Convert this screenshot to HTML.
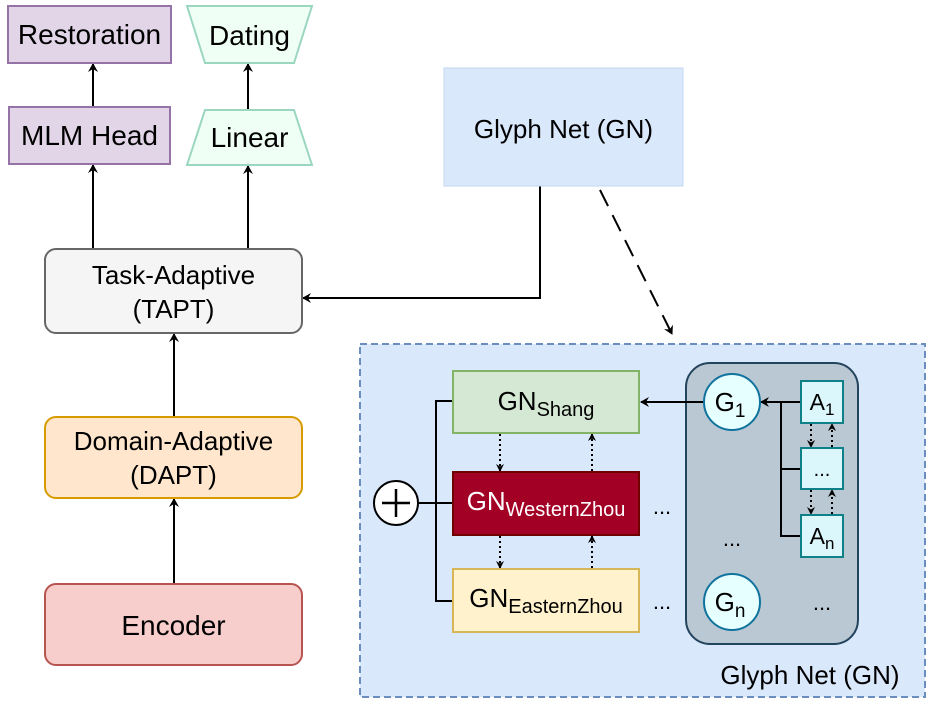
<!DOCTYPE html>
<html><head><meta charset="utf-8"><style>body{margin:0;background:#fff}svg{display:block;font-family:"Liberation Sans",sans-serif}</style></head><body>
<svg width="947" height="704" viewBox="0 0 947 704">
<defs>
<marker id="a" markerWidth="10" markerHeight="10" refX="8" refY="5" orient="auto" markerUnits="userSpaceOnUse"><path d="M0,0 L9,5 L0,10 L3,5 Z" fill="#000"/></marker>
<marker id="s" markerWidth="8" markerHeight="8" refX="7" refY="4" orient="auto" markerUnits="userSpaceOnUse"><path d="M0,0 L8,4 L0,8 L2.5,4 Z" fill="#000"/></marker>
</defs>
<g stroke="#000" stroke-width="2" fill="none">
<line x1="93" y1="107" x2="93" y2="64" marker-end="url(#a)"/>
<line x1="93" y1="249" x2="93" y2="165" marker-end="url(#a)"/>
<line x1="248" y1="110" x2="248" y2="64" marker-end="url(#a)"/>
<line x1="248" y1="249" x2="248" y2="166" marker-end="url(#a)"/>
<line x1="174" y1="417" x2="174" y2="334" marker-end="url(#a)"/>
<line x1="174" y1="584" x2="174" y2="499" marker-end="url(#a)"/>
<polyline points="540,186 540,298 303,298" marker-end="url(#a)"/>
<line x1="600" y1="190" x2="672" y2="334" stroke-dasharray="18,10" marker-end="url(#a)"/>
</g>
<rect x="8" y="6" width="163" height="57" fill="#e1d5e7" stroke="#9673a6" stroke-width="2"/>
<text x="89.5" y="44" font-size="28" text-anchor="middle">Restoration</text>
<rect x="9" y="107" width="161" height="57" fill="#e1d5e7" stroke="#9673a6" stroke-width="2"/>
<text x="89.5" y="145" font-size="28" text-anchor="middle">MLM Head</text>
<polygon points="187,6 312,6 294,63 205,63" fill="#effff5" stroke="#9ad6c0" stroke-width="2"/>
<text x="249.5" y="45" font-size="28" text-anchor="middle">Dating</text>
<polygon points="205,110 294,110 312,165 187,165" fill="#effff5" stroke="#9ad6c0" stroke-width="2"/>
<text x="249.5" y="147" font-size="28" text-anchor="middle">Linear</text>
<rect x="45" y="249" width="257" height="84" rx="11" fill="#f5f5f5" stroke="#666" stroke-width="2"/>
<text x="173.5" y="284" font-size="26" text-anchor="middle">Task-Adaptive</text>
<text x="173.5" y="318" font-size="26" text-anchor="middle">(TAPT)</text>
<rect x="45" y="417" width="257" height="81" rx="11" fill="#ffe6cc" stroke="#d79b00" stroke-width="2"/>
<text x="173.5" y="450" font-size="26" text-anchor="middle">Domain-Adaptive</text>
<text x="173.5" y="484" font-size="26" text-anchor="middle">(DAPT)</text>
<rect x="45" y="584" width="257" height="81" rx="11" fill="#f8cecc" stroke="#b85450" stroke-width="2"/>
<text x="173.5" y="635" font-size="28" text-anchor="middle">Encoder</text>
<rect x="444" y="68" width="239" height="118" fill="#dae8fc" stroke="#c3d7f2" stroke-width="1"/>
<text x="563.5" y="138" font-size="26" text-anchor="middle">Glyph Net (GN)</text>

<rect x="360" y="344" width="565" height="353" fill="#dae8fc" stroke="#6c8ebf" stroke-width="2" stroke-dasharray="7,4"/>
<rect x="686" y="363" width="172" height="281" rx="24" fill="#bac8d3" stroke="#23445d" stroke-width="2"/>
<g stroke="#000" stroke-width="2" fill="none">
<polyline points="453,401 436,401 436,601 453,601"/>
<line x1="418" y1="503" x2="453" y2="503"/>
<line x1="704" y1="402" x2="641" y2="402" marker-end="url(#a)"/>
<polyline points="801,402 781,402 781,536 801,536"/>
<line x1="781" y1="402" x2="761" y2="402" marker-end="url(#a)"/>
<line x1="781" y1="469" x2="801" y2="469"/>
</g>
<g stroke="#000" stroke-width="2" fill="none" stroke-dasharray="2,3">
<line x1="500" y1="434" x2="500" y2="471" marker-end="url(#s)"/>
<line x1="592" y1="471" x2="592" y2="434" marker-end="url(#s)"/>
<line x1="500" y1="536" x2="500" y2="568" marker-end="url(#s)"/>
<line x1="592" y1="568" x2="592" y2="536" marker-end="url(#s)"/>
<line x1="811" y1="424" x2="811" y2="447" marker-end="url(#s)"/>
<line x1="832" y1="447" x2="832" y2="424" marker-end="url(#s)"/>
<line x1="811" y1="490" x2="811" y2="514" marker-end="url(#s)"/>
<line x1="832" y1="514" x2="832" y2="490" marker-end="url(#s)"/>
</g>
<rect x="453" y="371" width="186" height="62" fill="#d5e8d4" stroke="#82b366" stroke-width="2"/>
<text x="546" y="410" font-size="26" text-anchor="middle">GN<tspan font-size="20" dy="6">Shang</tspan></text>
<rect x="453" y="472" width="186" height="63" fill="#a20025" stroke="#6f0000" stroke-width="2"/>
<text x="546" y="510" font-size="26" fill="#fff" text-anchor="middle">GN<tspan font-size="20" dy="6">WesternZhou</tspan></text>
<rect x="453" y="569" width="186" height="63" fill="#fff2cc" stroke="#d6b656" stroke-width="2"/>
<text x="546" y="607" font-size="26" text-anchor="middle">GN<tspan font-size="20" dy="6">EasternZhou</tspan></text>
<circle cx="396" cy="503" r="22" fill="#fff" stroke="#000" stroke-width="2"/>
<path d="M382,503 H410 M396,489 V517" stroke="#000" stroke-width="2.5"/>
<text x="662" y="514" font-size="22" text-anchor="middle">...</text>
<text x="662" y="609" font-size="22" text-anchor="middle">...</text>
<circle cx="732" cy="402" r="28" fill="#e6ffff" stroke="#10739e" stroke-width="2"/>
<text x="730" y="411" font-size="26" text-anchor="middle">G<tspan font-size="19" dy="6">1</tspan></text>
<circle cx="732" cy="602" r="28" fill="#e6ffff" stroke="#10739e" stroke-width="2"/>
<text x="730" y="611" font-size="26" text-anchor="middle">G<tspan font-size="19" dy="6">n</tspan></text>
<rect x="801" y="381" width="42" height="42" fill="#dcf7fc" stroke="#0e8088" stroke-width="2"/>
<text x="822" y="410" font-size="23" text-anchor="middle">A<tspan font-size="17" dy="5">1</tspan></text>
<rect x="801" y="448" width="42" height="41" fill="#dcf7fc" stroke="#0e8088" stroke-width="2"/>
<text x="822" y="476" font-size="20" text-anchor="middle">...</text>
<rect x="801" y="515" width="42" height="42" fill="#dcf7fc" stroke="#0e8088" stroke-width="2"/>
<text x="822" y="544" font-size="23" text-anchor="middle">A<tspan font-size="17" dy="5">n</tspan></text>
<text x="732" y="546" font-size="22" text-anchor="middle">...</text>
<text x="822" y="610" font-size="22" text-anchor="middle">...</text>
<text x="810" y="684" font-size="26" text-anchor="middle">Glyph Net (GN)</text>
</svg>
</body></html>
